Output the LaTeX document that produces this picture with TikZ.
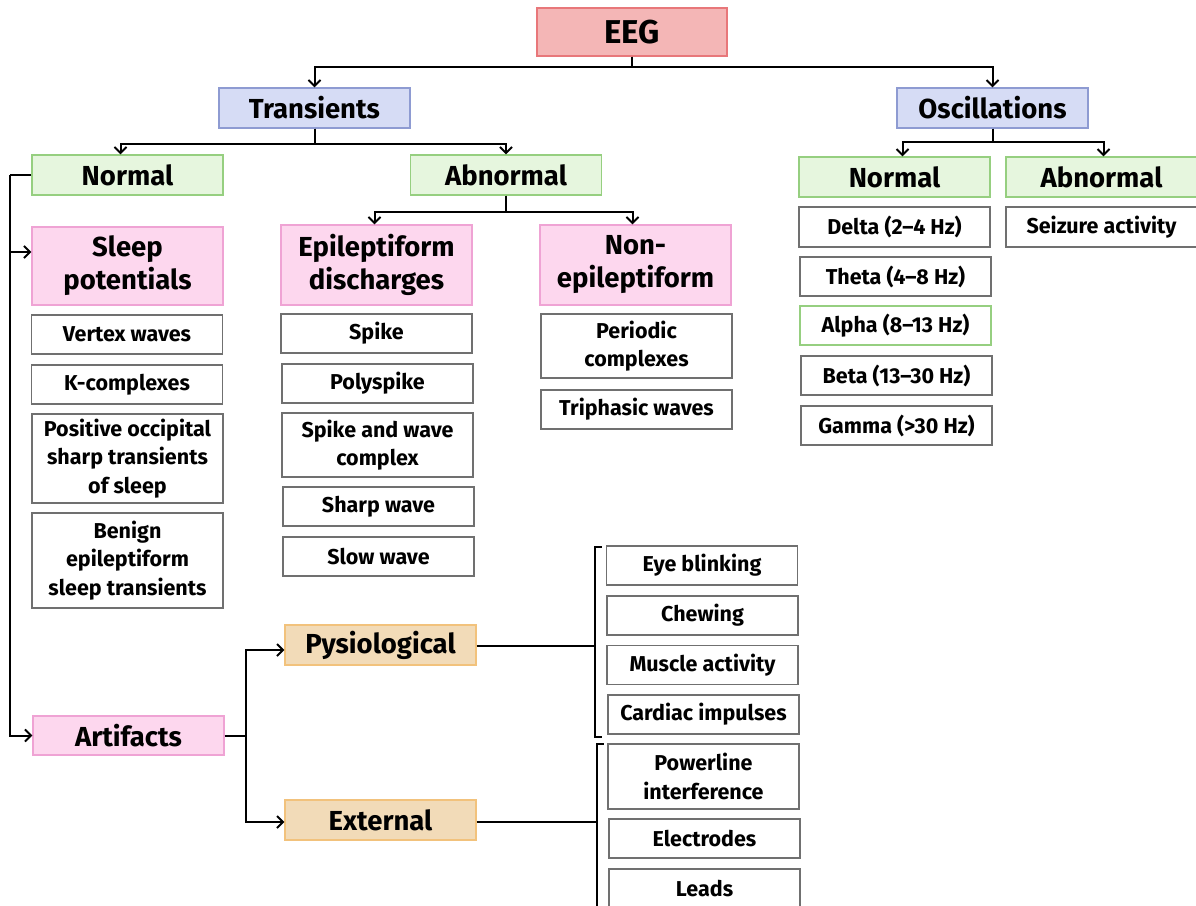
\documentclass[tikz,border=0pt]{standalone}
\usepackage{fontspec}
\setmainfont{Fira Sans}
\usetikzlibrary{arrows.meta,calc}

\definecolor{eegfill}{HTML}{F4B6B6}\definecolor{eegline}{HTML}{E8777A}
\definecolor{lavfill}{HTML}{D6DCF5}\definecolor{lavline}{HTML}{8E9BD2}
\definecolor{grnfill}{HTML}{E6F6DE}\definecolor{grnline}{HTML}{96CF80}
\definecolor{pnkfill}{HTML}{FDD7EE}\definecolor{pnkline}{HTML}{EFA3D4}
\definecolor{tanfill}{HTML}{F2DBB8}\definecolor{tanline}{HTML}{F2C27C}
\definecolor{boxline}{HTML}{707070}

\tikzset{
  base/.style={rectangle, line width=1.2pt, inner sep=0pt, align=center,
               minimum width=191, minimum height=40},
  head/.style={base, font=\fontsize{27.5}{33}\selectfont\bfseries},
  leaf/.style={base, draw=boxline, fill=white, minimum height=39,
               font=\fontsize{21.5}{28.5}\selectfont\bfseries},
  rootbox/.style={head, draw=eegline, fill=eegfill, minimum width=190, minimum height=48,
                  font=\fontsize{33}{36}\selectfont\bfseries},
  lavbox/.style={head, draw=lavline, fill=lavfill},
  grnbox/.style={head, draw=grnline, fill=grnfill},
  pnkbox/.style={head, draw=pnkline, fill=pnkfill},
  tanbox/.style={head, draw=tanline, fill=tanfill},
  conn/.style={line width=2pt, black},
  arr/.style={conn, -{Straight Barb[length=6pt,width=12pt,line width=2pt]}},
}

\begin{document}
\begin{tikzpicture}[x=1pt,y=-1pt]
\useasboundingbox (0,0) rectangle (1196,905);

% top levels
\node[rootbox] (eeg) at (632,32) {EEG};
\node[lavbox] (trans) at (314.5,108) {Transients};
\node[lavbox] (osc) at (992.5,108) {Oscillations};

% transients: normal / abnormal
\node[grnbox] (tnorm) at (127.5,175) {Normal};
\node[grnbox] (tabn) at (506,175) {Abnormal};

% oscillations: normal / abnormal
\node[grnbox] (onorm) at (894.5,177) {Normal};
\node[grnbox] (oabn) at (1101.5,177) {Abnormal};

% sleep potentials
\node[pnkbox, minimum height=78] (sleep) at (127.5,266) {Sleep\\potentials};
\node[leaf] (vertex) at (127,334.5) {Vertex waves};
\node[leaf] (kcomp) at (127,384.5) {K-complexes};
\node[leaf, minimum height=89] (posts) at (127.5,458.5) {Positive occipital\\sharp transients\\of sleep};
\node[leaf, minimum height=95] (benign) at (127.5,560.5) {Benign\\epileptiform\\sleep transients};

% epileptiform discharges
\node[pnkbox, minimum height=80] (epi) at (376.5,265) {Epileptiform\\discharges};
\node[leaf] (spike) at (376.5,333.5) {Spike};
\node[leaf] (poly) at (377.5,383.5) {Polyspike};
\node[leaf, minimum height=64] (swc) at (377.5,445) {Spike and wave\\complex};
\node[leaf] (sharp) at (378.5,506.5) {Sharp wave};
\node[leaf] (slow) at (378.5,556.5) {Slow wave};

% non-epileptiform
\node[pnkbox, minimum height=80] (nonepi) at (635.5,265) {Non-\\epileptiform};
\node[leaf, minimum height=64] (period) at (636.5,346) {Periodic\\complexes};
\node[leaf] (triph) at (636.5,409.5) {Triphasic waves};

% rhythms
\node[leaf, minimum height=40] (delta) at (894.5,227) {Delta (2--4 Hz)};
\node[leaf] (theta) at (895.5,276.5) {Theta (4--8 Hz)};
\node[leaf, draw=grnline] (alpha) at (895.5,325.5) {Alpha (8--13 Hz)};
\node[leaf] (beta) at (896.5,375.5) {Beta (13--30 Hz)};
\node[leaf] (gamma) at (896.5,425.5) {Gamma (>30 Hz)};
\node[leaf, minimum height=40] (seiz) at (1101.5,227) {Seizure activity};

% artifacts
\node[pnkbox, minimum height=39] (artif) at (128.5,735.5) {Artifacts};
\node[tanbox] (pysio) at (380.5,645) {Pysiological};
\node[tanbox] (extern) at (380.5,820) {External};
\node[leaf] (eye) at (702,565.5) {Eye blinking};
\node[leaf] (chew) at (702.5,615.5) {Chewing};
\node[leaf] (muscle) at (702.5,665) {Muscle activity};
\node[leaf] (cardiac) at (703.5,714.5) {Cardiac impulses};
\node[leaf, minimum height=65] (power) at (703.5,776.5) {Powerline\\interference};
\node[leaf] (electr) at (704.5,838.5) {Electrodes};
\node[leaf] (leads) at (704.5,888.5) {Leads};

% tree connectors
\draw[arr] (eeg.south) -- ++(0,10) -| (trans.north);
\draw[arr] (eeg.south) -- ++(0,10) -| (osc.north);

\draw[arr] (trans.south) -- ++(0,15) -| ([xshift=-7]tnorm.north);
\draw[arr] (trans.south) -- ++(0,15) -| (tabn.north);

\draw[arr] (osc.south) -- ++(0,13) -| ([xshift=8]onorm.north);
\draw[arr] (osc.south) -- ++(0,13) -| ([xshift=2]oabn.north);

\draw[arr] (tabn.south) -- ++(0,16) -| ([xshift=-2]epi.north);
\draw[arr] (tabn.south) -- ++(0,16) -| ([xshift=-3]nonepi.north);

% side trunk from normal transients
\draw[conn] (tnorm.west) -- ++(-21,0) coordinate (nl);
\draw[arr] (nl) |- (artif.west);
\coordinate (sleepin) at ([yshift=14]sleep.west);
\draw[arr] (nl |- sleepin) -- (sleepin);

% artifact branches
\draw[conn] (artif.east) -- ++(21,0) coordinate (ab);
\draw[arr] (ab) |- ([yshift=-5]pysio.west);
\draw[arr] (ab) |- ([yshift=-2]extern.west);

% brackets grouping artifact sources
\draw[conn] ([yshift=-1]pysio.east) -- ++(118,0) coordinate (pb);
\coordinate (pbtop) at ([yshift=-2]pb |- eye.north);
\coordinate (pbbot) at ([yshift=-2]pb |- cardiac.south);
\draw[conn] ([xshift=7]pbtop) -- (pbtop) -- (pbbot) -- ([xshift=7]pbbot);
\draw[conn] ([yshift=-2]extern.east) -- ++(120,0) coordinate (eb);
\coordinate (ebtop) at ([yshift=-1]eb |- power.north);
\draw[conn] ([xshift=7]ebtop) -- (ebtop) -- (eb |- leads.south);
\end{tikzpicture}
\end{document}
